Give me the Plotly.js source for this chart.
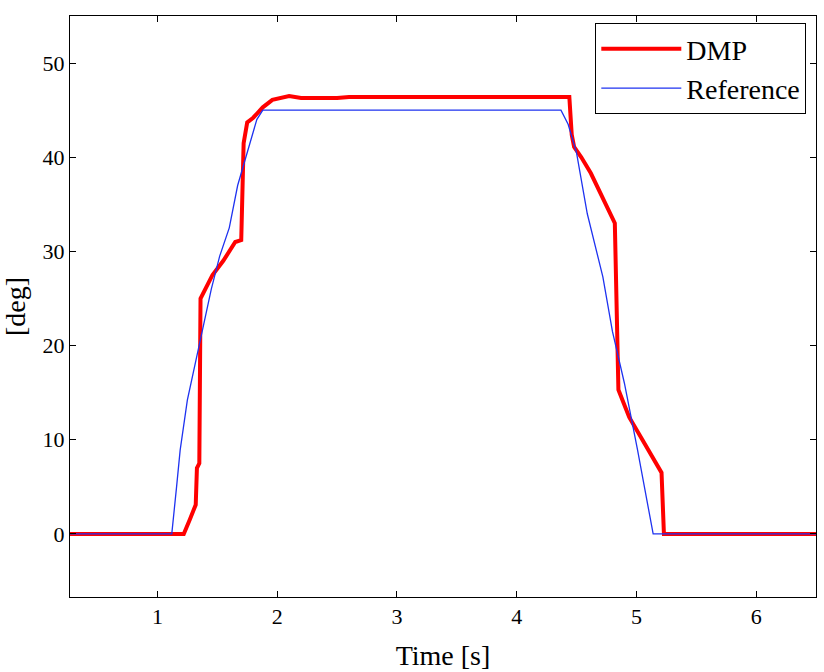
<!DOCTYPE html>
<html>
<head>
<meta charset="utf-8">
<script src="https://cdn.plot.ly/plotly-3.0.1.min.js"></script>
<style>html,body{margin:0;padding:0;background:#fff;}#chart{width:824px;height:672px;}</style>
</head>
<body>
<div id="chart"></div>
<script>
// Reference trajectory
var refTime = [0.27, 1.12, 1.16, 1.19, 1.25, 1.34, 1.45, 1.52, 1.6, 1.67, 1.76, 1.83, 1.88, 4.37, 4.43, 4.5, 4.59, 4.67, 4.72, 4.8, 4.9, 5.01, 5.1, 5.14, 6.5];
var refDeg  = [0,    0,    5,    8.9,  14.2, 19.5, 26,   29.5, 32.5, 37,   41,   44,   45,   45,   43.5, 40.5, 34,   30,   27.3, 21.5, 16,   8.9,  3,    0,    0];

// DMP trajectory
var dmpTime = [0.27, 1.22, 1.27, 1.32, 1.33, 1.35, 1.36, 1.4, 1.46, 1.55, 1.65, 1.7, 1.71, 1.72, 1.75, 1.8, 1.88, 1.96, 2.1, 2.2, 2.5, 2.6, 4.44, 4.46, 4.48, 4.54, 4.62, 4.69, 4.73, 4.8, 4.82, 4.85, 4.94, 5.05, 5.19, 5.21, 5.23, 6.5];
var dmpDeg  = [0,    0,    1.5,  3.1,  7,    7.5,  25,   26,  27.5, 29,   31,   31.2, 36,   41.5, 43.7, 44.2, 45.3, 46.1, 46.5, 46.3, 46.3, 46.4, 46.4, 42.4, 41.1, 40,   38.3, 36.5, 35.5, 33.7, 33,   15.3, 12.4, 10,   6.8,  6.5,  0,    0];

var seriesNames = ['DMP', 'Reference'];
var xTicks = [1, 2, 3, 4, 5, 6];
var yTicks = [0, 10, 20, 30, 40, 50];

var traces = [
  {x: dmpTime, y: dmpDeg, name: seriesNames[0], mode: 'lines', line: {color: 'rgb(255,0,0)', width: 4}},
  {x: refTime, y: refDeg, name: seriesNames[1], mode: 'lines', line: {color: 'rgb(30,50,240)', width: 1.3}}
];

var fontFam = 'Liberation Serif, serif';
var layout = {
  width: 824, height: 672,
  margin: {l: 70, r: 8, t: 16, b: 75},
  paper_bgcolor: '#fff', plot_bgcolor: '#fff',
  font: {family: fontFam, color: '#000', size: 22},
  showlegend: true,
  legend: {
    x: 0.987, y: 0.988, xanchor: 'right', yanchor: 'top',
    bordercolor: '#000', borderwidth: 1, bgcolor: '#fff',
    font: {family: fontFam, size: 28, color: '#000'},
    itemwidth: 80, tracegroupgap: 0
  },
  xaxis: {
    range: [0.27, 6.5], tickvals: xTicks, ticktext: xTicks.map(String),
    ticks: 'inside', ticklen: 6, tickcolor: '#000', tickwidth: 1,
    showline: true, linecolor: '#000', linewidth: 1, mirror: 'ticks',
    showgrid: false, zeroline: false,
    tickfont: {family: fontFam, size: 22},
    title: {text: 'Time [s]', font: {family: fontFam, size: 28}, standoff: 16}
  },
  yaxis: {
    range: [-6.7, 55], tickvals: yTicks, ticktext: yTicks.map(String),
    ticks: 'inside', ticklen: 6, tickcolor: '#000', tickwidth: 1,
    showline: true, linecolor: '#000', linewidth: 1, mirror: 'ticks',
    showgrid: false, zeroline: false,
    tickfont: {family: fontFam, size: 22},
    title: {text: '[deg]', font: {family: fontFam, size: 28}, standoff: 10}
  }
};

Plotly.newPlot('chart', traces, layout, {staticPlot: true, displayModeBar: false});
</script>
</body>
</html>
